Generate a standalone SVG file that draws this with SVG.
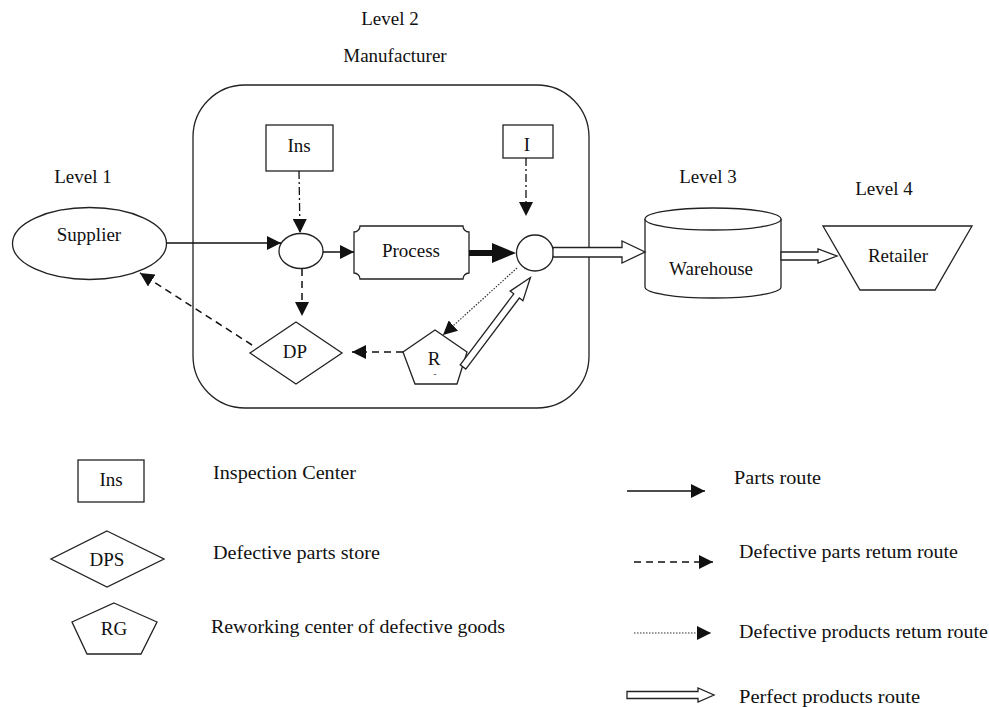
<svg xmlns="http://www.w3.org/2000/svg" width="989" height="707" viewBox="0 0 989 707">
<defs>
<style>
text{font-family:"Liberation Serif","Times New Roman",serif;font-size:19px;fill:#111;}
.c{text-anchor:middle;}
.s{fill:#fff;stroke:#222;stroke-width:1.3;}
.ln{fill:none;stroke:#111;stroke-width:1.5;}
.da{fill:none;stroke:#111;stroke-width:1.5;stroke-dasharray:7,5;}
.dd{fill:none;stroke:#111;stroke-width:1.3;stroke-dasharray:8,3,2,3;}
.dt{fill:none;stroke:#333;stroke-width:1.2;stroke-dasharray:1.5,1.5;}
.ho{fill:#fff;stroke:#222;stroke-width:1.3;stroke-linejoin:miter;}
</style>
<marker id="ah" markerUnits="userSpaceOnUse" markerWidth="16" markerHeight="14" refX="14" refY="7" orient="auto">
<path d="M0,0 L14,7 L0,14 z" fill="#111"/>
</marker>
</defs>

<rect width="989" height="707" fill="#fff"/>

<!-- titles -->
<text x="390" y="25" class="c">Level 2</text>
<text x="395" y="62" class="c">Manufacturer</text>
<text x="83" y="183" class="c">Level 1</text>
<text x="708" y="183" class="c">Level 3</text>
<text x="884" y="195" class="c">Level 4</text>

<g id="manufacturer">
<rect x="193" y="85" width="396" height="323" rx="52" ry="52" class="s" fill="none"/>
</g>

<g id="supplier">
<ellipse cx="89.5" cy="243.5" rx="77" ry="36" class="s"/>
<text x="89" y="241" class="c">Supplier</text>
</g>

<g id="ins">
<rect x="266" y="125" width="67" height="46" class="s"/>
<text x="299" y="152" class="c">Ins</text>
</g>

<g id="i">
<rect x="503" y="125" width="50" height="33" class="s"/>
<text x="527" y="151" class="c">I</text>
</g>

<g id="junction1">
<ellipse cx="301" cy="251" rx="22" ry="17.5" class="s"/>
</g>

<g id="process">
<path d="M360,226 H463 A6,6 0 0 0 469,232 V273 A6,6 0 0 0 463,279 H360 A6,6 0 0 0 354,273 V232 A6,6 0 0 0 360,226 Z" class="s"/>
<text x="411" y="257" class="c">Process</text>
</g>

<g id="junction2">
<ellipse cx="535" cy="253" rx="18.5" ry="18" class="s"/>
</g>

<g id="dp">
<polygon points="296,322 342,353 296,384 250,353" class="s"/>
<text x="295" y="358" class="c">DP</text>
</g>

<g id="r">
<polygon points="435,330 467,352 457,384 415,384 403,352" class="s"/>
<text x="434" y="365" class="c">R</text>
<text x="435" y="377" class="c" style="font-size:9px">-</text>
</g>

<g id="warehouse">
<path d="M645,219 V287 A68,11 0 0 0 781,287 V219" class="s"/>
<ellipse cx="713" cy="219" rx="68" ry="11" class="s"/>
<text x="711" y="275" class="c">Warehouse</text>
</g>

<g id="retailer">
<polygon points="823,226 972,226 935,290 860,290" class="s"/>
<text x="898" y="262" class="c">Retailer</text>
</g>

<g id="connectors">
<line x1="167" y1="243" x2="281" y2="243" class="ln" marker-end="url(#ah)"/>
<line x1="323" y1="252" x2="354" y2="252" class="ln" marker-end="url(#ah)"/>
<line x1="299" y1="171" x2="300" y2="233" class="dd" marker-end="url(#ah)"/>
<line x1="526" y1="158" x2="526" y2="216" class="dd" marker-end="url(#ah)"/>
<line x1="469" y1="253" x2="496" y2="253" stroke="#111" stroke-width="6"/>
<polygon points="492,243 516,253 492,263" fill="#111"/>
<line x1="302" y1="269" x2="302" y2="316" class="da" marker-end="url(#ah)"/>
<line x1="252" y1="345" x2="140" y2="273" class="da" marker-end="url(#ah)"/>
<line x1="403" y1="352" x2="352" y2="352" class="da" marker-end="url(#ah)"/>
<line x1="517" y1="268" x2="443" y2="335" class="dt" marker-end="url(#ah)"/>
<polygon points="553,247.5 622,247.5 622,241 645,252 622,263 622,257 553,257" class="ho"/>
<polygon points="781,252 818,252 818,249 837,256 818,263 818,260 781,260" class="ho"/>
<g transform="translate(463,367) rotate(-53)">
<polygon points="0,-3.5 89,-3.5 89,-8 112,0 89,8 89,3.5 0,3.5" class="ho"/>
</g>
</g>

<g id="legend">
<rect x="78" y="460" width="66" height="42" class="s"/>
<text x="111" y="486" class="c">Ins</text>
<polygon points="107,531 164,559 107,587 51,559" class="s"/>
<text x="107" y="566" class="c">DPS</text>
<polygon points="114,603 157,622 141,654 87,654 72,622" class="s"/>
<text x="114" y="635" class="c">RG</text>
<text x="213" y="479" textLength="143" lengthAdjust="spacingAndGlyphs">Inspection Center</text>
<text x="213" y="559" textLength="167" lengthAdjust="spacingAndGlyphs">Defective parts store</text>
<text x="211" y="633" textLength="294" lengthAdjust="spacingAndGlyphs">Reworking center of defective goods</text>

<line x1="627" y1="491" x2="705" y2="491" class="ln" marker-end="url(#ah)"/>
<line x1="634" y1="562" x2="713" y2="562" class="da" marker-end="url(#ah)"/>
<line x1="634" y1="633" x2="711" y2="633" class="dt" marker-end="url(#ah)"/>
<polygon points="627,691.5 698,691.5 698,688 714,695 698,702 698,698.5 627,698.5" class="ho"/>
<text x="734" y="484" textLength="87" lengthAdjust="spacingAndGlyphs">Parts route</text>
<text x="739" y="558" textLength="219" lengthAdjust="spacingAndGlyphs">Defective parts retum route</text>
<text x="739" y="638" textLength="249" lengthAdjust="spacingAndGlyphs">Defective products retum route</text>
<text x="739" y="703" textLength="181" lengthAdjust="spacingAndGlyphs">Perfect products route</text>
</g>
</svg>
